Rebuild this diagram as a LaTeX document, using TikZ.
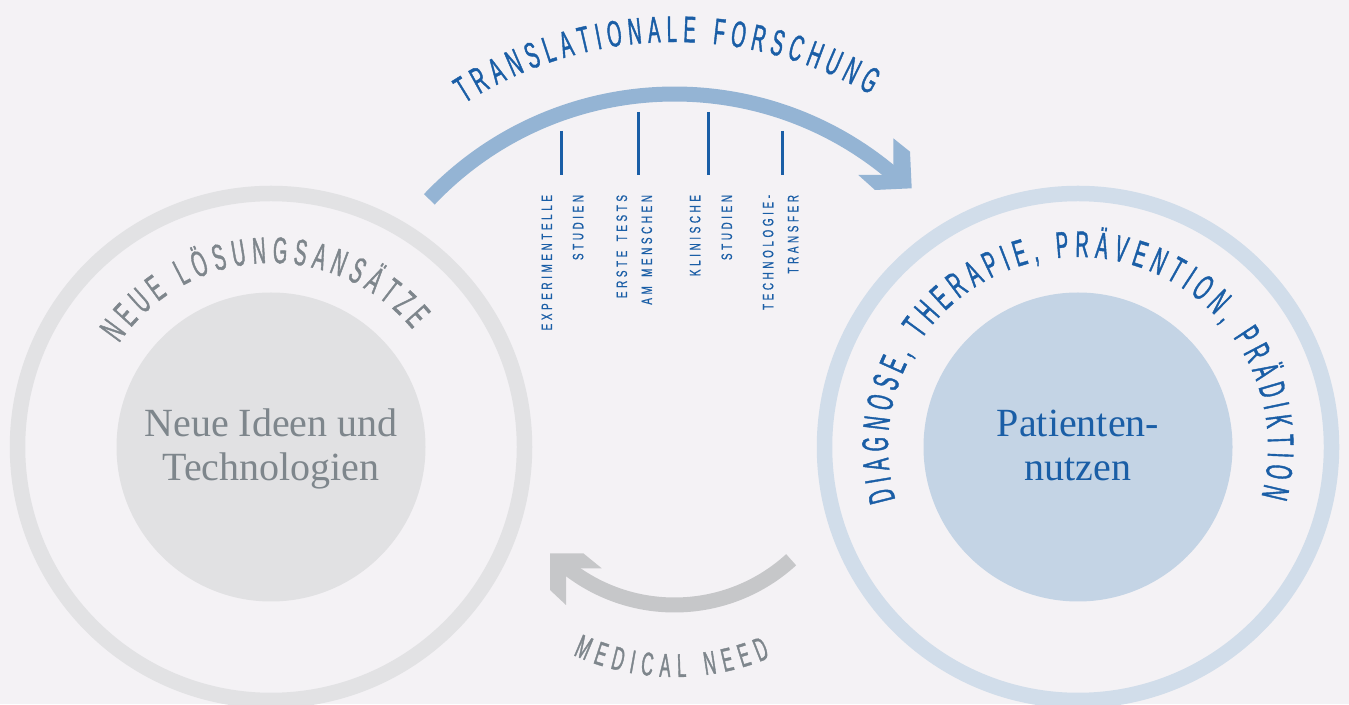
\documentclass[tikz,border=0pt]{standalone}
\usepackage{fontspec}
\setmainfont{Liberation Serif}
\newfontfamily\condfont[FakeStretch=0.5,FakeBold=1.1]{Liberation Sans}
\newfontfamily\labfont[FakeStretch=0.66,LetterSpace=24,FakeBold=0.8]{Liberation Sans}
\usetikzlibrary{calc}
\definecolor{bgc}{HTML}{F4F2F5}
\definecolor{lring}{HTML}{E2E2E4}
\definecolor{ldisc}{HTML}{E1E1E3}
\definecolor{rring}{HTML}{D1DDEA}
\definecolor{rdisc}{HTML}{C4D4E5}
\definecolor{tarrow}{HTML}{94B4D4}
\definecolor{barrow}{HTML}{C6C7C9}
\definecolor{bluec}{HTML}{1A5EA6}
\definecolor{grayc}{HTML}{7E868C}
\newcommand\bigfont{\condfont\fontsize{37}{37}\selectfont}
\newcommand\medfont{\condfont\fontsize{33}{33}\selectfont}
\newcommand\wsp{\hspace{3pt}}
\newdimen\arcacc
\newdimen\arcpos
\newdimen\arcw
\newbox\arcbox
\newcommand\arcmeasure[2]{%
  \pgfinterruptpicture
    \setbox\arcbox=\hbox{#1#2}\global\arcw=\wd\arcbox
  \endpgfinterruptpicture}
% #1 name prefix, #2 centre, #3 radius, #4 mid angle, #5 sign (1 top, -1 bottom),
% #6 font and colour, #7 tracking (pt), #8 letters
\newcommand\arcword[8]{%
  \global\arcacc=0pt
  \foreach \ch in {#8}{\arcmeasure{#6}{\ch}\global\advance\arcacc by \arcw
    \global\advance\arcacc by #7pt\relax}%
  \global\advance\arcacc by -#7pt\relax
  \global\arcpos=0pt
  \foreach \ch [count=\i] in {#8}{%
    \arcmeasure{#6}{\ch}%
    \pgfmathsetmacro\arcang{#4+(#5)*(0.5*\arcacc-\arcpos-0.5*\arcw)/#3*180/pi}%
    \pgfmathsetmacro\arcrot{\arcang-(#5)*90}%
    \node[rotate=\arcrot, anchor=base, inner sep=0pt, outer sep=0pt] (#1\i)
      at ([shift={(\arcang:#3pt)}]#2) {#6\ch};
    \global\advance\arcpos by \arcw
    \global\advance\arcpos by #7pt\relax
  }%
}
\begin{document}
\begin{tikzpicture}[x=1pt,y=1pt,
  lab/.style={rotate=90, anchor=east, inner sep=0pt, outer sep=0pt,
    text height=10.5pt, text depth=0pt, text=bluec,
    font=\labfont\fontsize{15}{15}\selectfont},
  tick/.style={draw=bluec, line width=2.5pt},
  serifgray/.style={anchor=base, inner sep=0pt, text=grayc, font=\fontsize{40}{40}\selectfont},
  serifblue/.style={anchor=base, inner sep=0pt, text=bluec, font=\fontsize{40}{40}\selectfont}]
\useasboundingbox (0,0) rectangle (1349,704);
\fill[bgc] (0,0) rectangle (1349,704);
\coordinate (L) at (271,257);
\coordinate (R) at (1078,257);
\coordinate (C) at (674.5,272);
% circles
\draw[lring, line width=15.5pt] (L) circle[radius=253.5pt];
\fill[ldisc] (L) circle[radius=154.5pt];
\draw[rring, line width=15.5pt] (R) circle[radius=253.5pt];
\fill[rdisc] (R) circle[radius=154.5pt];
% top arrow
\draw[tarrow, line width=15pt] ([shift={(136.5:338pt)}]C) arc[start angle=136.5, end angle=49.5, radius=338pt];
\fill[tarrow] (893.3,565.7) -- (910,552.3) -- (911.7,515.7) -- (875,514) -- (858.3,529) -- (893.3,529) -- cycle;
% bottom arrow
\draw[barrow, line width=15pt] ([shift={(312.4:173pt)}]C) arc[start angle=312.4, end angle=231.4, radius=173pt];
\fill[barrow] (550,150.7) -- (583.3,150.7) -- (601.7,135.7) -- (566,135.7) -- (566,99) -- (550,114) -- cycle;
% ticks
\draw[tick] (561.7,573) -- (561.7,529);
\draw[tick] (638.5,592) -- (638.5,529);
\draw[tick] (708.7,592) -- (708.7,529);
\draw[tick] (782.7,573) -- (782.7,529);
% vertical labels
\node[lab] (e1) at (546.7,509) {EXPERIMENTELLE};
\node[lab] (e2) at (578,509) {STUDIEN};
\node[lab] (m1) at (621.7,509) {ERSTE\wsp{} TESTS};
\node[lab] (m2) at (646.7,509) {AM\wsp{} MENSCHEN};
\node[lab] (k1) at (695,509) {KLINISCHE};
\node[lab] (k2) at (726.7,509) {STUDIEN};
\node[lab] (t1) at (768,509) {TECHNOLOGIE-};
\node[lab] (t2) at (793,509) {TRANSFER};
% centre texts
\node[serifgray] (n1) at (271,267) {Neue Ideen und};
\node[serifgray] (n2) at (271,223) {Technologien};
\node[serifblue] (p1) at (1078,267) {Patienten-};
\node[serifblue] (p2) at (1078,223) {nutzen};
% curved texts
\arcword{tf}{C}{390}{91.2}{1}{\bigfont\color{bluec}}{6}{T,R,A,N,S,L,A,T,I,O,N,A,L,E,~,F,O,R,S,C,H,U,N,G}
\arcword{nl}{L}{184}{92.7}{1}{\bigfont\color{grayc}}{6}{N,E,U,E,~,L,Ö,S,U,N,G,S,A,N,S,Ä,T,Z,E}
\arcword{dt}{R}{190}{90.5}{1}{\bigfont\color{bluec}}{6}{D,I,A,G,N,O,S,E,{,},~,T,H,E,R,A,P,I,E,{,},~,P,R,Ä,V,E,N,T,I,O,N,{,},~,P,R,Ä,D,I,K,T,I,O,N}
\arcword{mn}{C}{245}{269.3}{-1}{\medfont\color{grayc}}{7.2}{M,E,D,I,C,A,L,~,N,E,E,D}
\end{tikzpicture}
\end{document}
